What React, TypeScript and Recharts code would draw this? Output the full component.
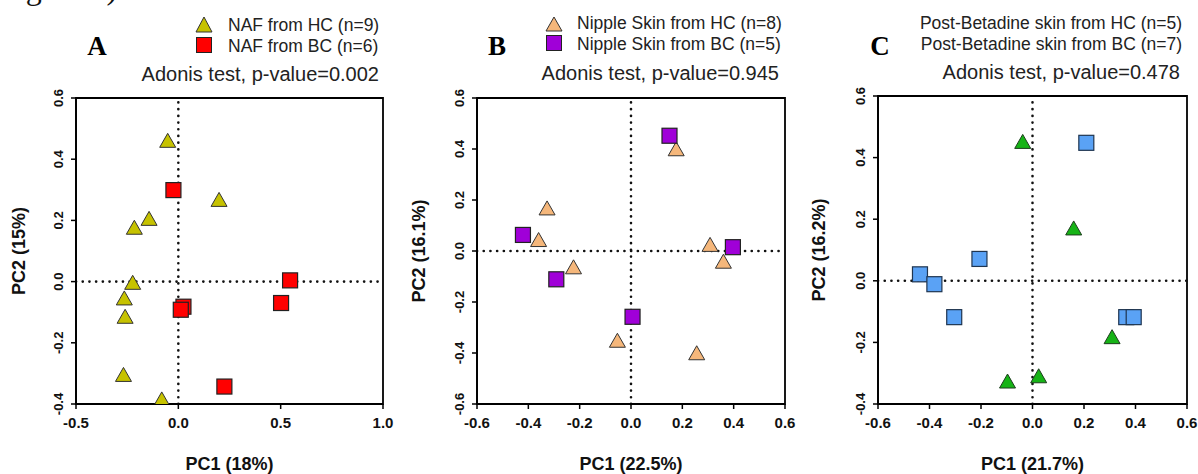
import { ScatterChart, Scatter, XAxis, YAxis, ReferenceLine, ReferenceArea, Label } from "recharts"

// PCoA coordinates
const nafHC = [
  { x: -0.052, y: 0.46 },
  { x: 0.199, y: 0.267 },
  { x: -0.143, y: 0.205 },
  { x: -0.215, y: 0.176 },
  { x: -0.223, y: -0.004 },
  { x: -0.264, y: -0.055 },
  { x: -0.26, y: -0.115 },
  { x: -0.268, y: -0.305 },
  { x: -0.081, y: -0.385 },
]
const nafBC = [
  { x: -0.024, y: 0.299 },
  { x: 0.546, y: 0.004 },
  { x: 0.502, y: -0.07 },
  { x: 0.025, y: -0.082 },
  { x: 0.012, y: -0.092 },
  { x: 0.225, y: -0.343 },
]
const nippleHC = [
  { x: -0.327, y: 0.167 },
  { x: -0.36, y: 0.043 },
  { x: -0.224, y: -0.064 },
  { x: -0.053, y: -0.352 },
  { x: 0.176, y: 0.399 },
  { x: 0.308, y: 0.024 },
  { x: 0.36, y: -0.042 },
  { x: 0.256, y: -0.401 },
]
const nippleBC = [
  { x: -0.421, y: 0.063 },
  { x: -0.291, y: -0.111 },
  { x: 0.006, y: -0.258 },
  { x: 0.15, y: 0.452 },
  { x: 0.397, y: 0.015 },
]
const betadineHC = [
  { x: -0.038, y: 0.451 },
  { x: 0.16, y: 0.17 },
  { x: 0.309, y: -0.183 },
  { x: -0.097, y: -0.327 },
  { x: 0.024, y: -0.31 },
]
const betadineBC = [
  { x: 0.209, y: 0.448 },
  { x: -0.206, y: 0.071 },
  { x: -0.437, y: 0.021 },
  { x: -0.381, y: -0.011 },
  { x: -0.304, y: -0.118 },
  { x: 0.364, y: -0.118 },
  { x: 0.393, y: -0.118 },
]

const xTicksA = [-0.5, 0, 0.5, 1.0]
const yTicksA = [-0.4, -0.2, 0, 0.2, 0.4, 0.6]
const xTicksB = [-0.6, -0.4, -0.2, 0, 0.2, 0.4, 0.6]
const yTicksB = [-0.6, -0.4, -0.2, 0, 0.2, 0.4, 0.6]
const xTicksC = [-0.6, -0.4, -0.2, 0, 0.2, 0.4, 0.6]
const yTicksC = [-0.4, -0.2, 0, 0.2, 0.4, 0.6]

const SANS = "'Liberation Sans', Arial, sans-serif"
const SERIF = "'Liberation Serif', 'Times New Roman', serif"

const fmt = (v: number) => v.toFixed(1)

const triangle = (fill: string, stroke = "#333") => (props: any) => {
  const { cx, cy } = props
  return (
    <polygon
      points={`${cx},${cy - 7.5} ${cx - 8},${cy + 6.5} ${cx + 8},${cy + 6.5}`}
      fill={fill}
      stroke={stroke}
      strokeWidth={1}
    />
  )
}

const square = (fill: string, stroke = "#222") => (props: any) => {
  const { cx, cy } = props
  return <rect x={cx - 7.5} y={cy - 7.5} width={15} height={15} fill={fill} stroke={stroke} strokeWidth={1.2} />
}

const XTick = (props: any) => {
  const { x, y, payload } = props
  return (
    <text x={x} y={y} dy="0.71em" textAnchor="middle" fontSize={15} fontWeight="bold" fontFamily={SANS} fill="#111">
      {fmt(payload.value)}
    </text>
  )
}

const YTick = (props: any) => {
  const { x, y, payload } = props
  return (
    <text
      x={x}
      y={y}
      transform={`rotate(-90 ${x} ${y})`}
      textAnchor="middle"
      fontSize={13}
      fontWeight="bold"
      fontFamily={SANS}
      fill="#111"
    >
      {fmt(payload.value)}
    </text>
  )
}

type PanelProps = {
  left: number
  width: number
  top: number
  right: number
  yAxisWidth: number
  xDomain: [number, number]
  yDomain: [number, number]
  xTicks: number[]
  yTicks: number[]
  xTitle: string
  yTitle: string
  hc: { x: number; y: number }[]
  bc: { x: number; y: number }[]
  hcShape: any
  bcShape: any
}

function Panel(p: PanelProps) {
  return (
    <div style={{ position: "absolute", left: p.left, top: 0 }}>
      <ScatterChart width={p.width} height={474} margin={{ top: p.top, right: p.right, bottom: 0, left: 0 }}>
        <XAxis
          type="number"
          dataKey="x"
          domain={p.xDomain}
          ticks={p.xTicks}
          allowDataOverflow
          height={70}
          tickSize={5}
          tickMargin={8}
          tick={<XTick />}
          axisLine={{ stroke: "#000", strokeWidth: 1.8 }}
          tickLine={{ stroke: "#000", strokeWidth: 1.5 }}
        >
          <Label
            value={p.xTitle}
            position="insideBottom"
            offset={4.5}
            style={{ fontSize: 18, fontWeight: "bold", fontFamily: SANS, fill: "#111" }}
          />
        </XAxis>
        <YAxis
          type="number"
          dataKey="y"
          domain={p.yDomain}
          ticks={p.yTicks}
          allowDataOverflow
          width={p.yAxisWidth}
          tickSize={5}
          tickMargin={8}
          tick={<YTick />}
          axisLine={{ stroke: "#000", strokeWidth: 1.8 }}
          tickLine={{ stroke: "#000", strokeWidth: 1.5 }}
        >
          <Label
            value={p.yTitle}
            angle={-90}
            position="insideLeft"
            offset={19}
            style={{ fontSize: 18, fontWeight: "bold", fontFamily: SANS, fill: "#111", textAnchor: "middle" }}
          />
        </YAxis>
        <ReferenceArea
          x1={p.xDomain[0]}
          x2={p.xDomain[1]}
          y1={p.yDomain[0]}
          y2={p.yDomain[1]}
          fill="none"
          fillOpacity={0}
          stroke="#000"
          strokeWidth={1.8}
          ifOverflow="visible"
        />
        <ReferenceLine x={0} stroke="#111" strokeWidth={2.6} strokeDasharray="0.1 6.6" strokeLinecap="round" />
        <ReferenceLine y={0} stroke="#111" strokeWidth={2.6} strokeDasharray="0.1 6.6" strokeLinecap="round" />
        <Scatter data={p.hc} shape={p.hcShape} isAnimationActive={false} />
        <Scatter data={p.bc} shape={p.bcShape} isAnimationActive={false} />
      </ScatterChart>
    </div>
  )
}

function Header() {
  const legend = { fontSize: 17.5, fontFamily: SANS, fill: "#222" }
  const adonis = { fontSize: 20, fontFamily: SANS, fill: "#222" }
  const letter = { fontSize: 27, fontWeight: "bold" as const, fontFamily: SERIF, fill: "#000" }
  return (
    <svg width={1198} height={100} style={{ position: "absolute", left: 0, top: 0 }}>
      <text x={-1} y={-1} fontSize={32} fontFamily={SERIF} fill="#111">Figure 3)</text>

      <text x={97} y={55} textAnchor="middle" {...letter}>A</text>
      <polygon points="204,17 196,32 212,32" fill="#c6c200" stroke="#333" />
      <rect x={196.5} y={37.5} width={15} height={15} fill="#ff0000" stroke="#222" />
      <text x={228} y={31} {...legend}>NAF from HC (n=9)</text>
      <text x={228} y={52} {...legend}>NAF from BC (n=6)</text>
      <text x={379} y={81} textAnchor="end" {...adonis}>Adonis test, p-value=0.002</text>

      <text x={497} y={55} textAnchor="middle" {...letter}>B</text>
      <polygon points="554,17 546,31 562,31" fill="#f5b77b" stroke="#333" />
      <rect x={546.5} y={35.5} width={15} height={15} fill="#a000d8" stroke="#222" />
      <text x={577} y={29} {...legend}>Nipple Skin from HC (n=8)</text>
      <text x={577} y={50} {...legend}>Nipple Skin from BC (n=5)</text>
      <text x={779} y={80} textAnchor="end" {...adonis}>Adonis test, p-value=0.945</text>

      <text x={880} y={55} textAnchor="middle" {...letter}>C</text>
      <text x={1182} y={29} textAnchor="end" {...legend}>Post-Betadine skin from HC (n=5)</text>
      <text x={1182} y={50} textAnchor="end" {...legend}>Post-Betadine skin from BC (n=7)</text>
      <text x={1180} y={79} textAnchor="end" {...adonis}>Adonis test, p-value=0.478</text>
    </svg>
  )
}

export default function App() {
  return (
    <div style={{ position: "absolute", left: 0, top: 0, width: 1198, height: 474, background: "#fff", overflow: "hidden" }}>
      <Header />
      <Panel
        left={0}
        width={400}
        top={98}
        right={17}
        yAxisWidth={76}
        xDomain={[-0.5, 1.0]}
        yDomain={[-0.4, 0.6]}
        xTicks={xTicksA}
        yTicks={yTicksA}
        xTitle="PC1 (18%)"
        yTitle="PC2 (15%)"
        hc={nafHC}
        bc={nafBC}
        hcShape={triangle("#c6c200")}
        bcShape={square("#ff0000")}
      />
      <Panel
        left={400}
        width={400}
        top={98}
        right={15}
        yAxisWidth={77}
        xDomain={[-0.6, 0.6]}
        yDomain={[-0.6, 0.6]}
        xTicks={xTicksB}
        yTicks={yTicksB}
        xTitle="PC1 (22.5%)"
        yTitle="PC2 (16.1%)"
        hc={nippleHC}
        bc={nippleBC}
        hcShape={triangle("#f5b77b")}
        bcShape={square("#a000d8")}
      />
      <Panel
        left={800}
        width={398}
        top={96}
        right={11}
        yAxisWidth={78}
        xDomain={[-0.6, 0.6]}
        yDomain={[-0.4, 0.6]}
        xTicks={xTicksC}
        yTicks={yTicksC}
        xTitle="PC1 (21.7%)"
        yTitle="PC2 (16.2%)"
        hc={betadineHC}
        bc={betadineBC}
        hcShape={triangle("#16b316", "#1d3d1d")}
        bcShape={square("#5aa2f5", "#1f3550")}
      />
    </div>
  )
}
